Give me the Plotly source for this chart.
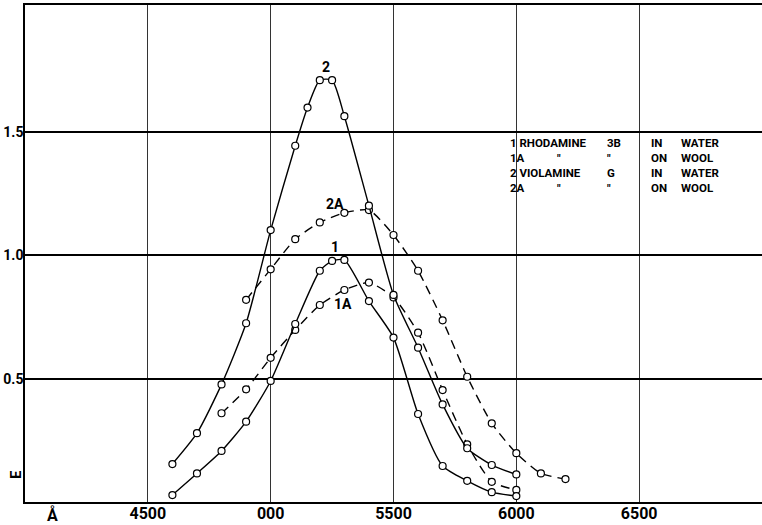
import plotly.graph_objects as go

# Wavelength (Å) and extinction E
x_1 = [4600, 4700, 4800, 4900, 5000, 5100, 5200, 5250, 5300, 5400, 5500, 5600, 5700, 5800, 5900, 6000]
y_1 = [0.028, 0.116, 0.207, 0.326, 0.491, 0.722, 0.938, 0.978, 0.982, 0.815, 0.667, 0.357, 0.146, 0.086, 0.040, 0.024]

x_1a = [4800, 4900, 5000, 5100, 5200, 5300, 5400, 5500, 5600, 5700, 5800, 5900, 6000]
y_1a = [0.36, 0.457, 0.585, 0.698, 0.799, 0.86, 0.89, 0.83, 0.687, 0.454, 0.234, 0.082, 0.049]

x_2 = [4600, 4700, 4800, 4900, 5000, 5100, 5150, 5200, 5250, 5300, 5400, 5500, 5600, 5700, 5800, 5900, 6000]
y_2 = [0.154, 0.279, 0.477, 0.725, 1.103, 1.445, 1.60, 1.711, 1.711, 1.565, 1.202, 0.84, 0.626, 0.396, 0.218, 0.150, 0.112]

x_2a = [4900, 5000, 5100, 5200, 5300, 5400, 5500, 5600, 5700, 5800, 5900, 6000, 6100, 6200]
y_2a = [0.82, 0.944, 1.066, 1.134, 1.173, 1.184, 1.083, 0.938, 0.737, 0.508, 0.319, 0.198, 0.116, 0.093]

x_ticks = [4500, 5000, 5500, 6000, 6500]
x_ticktext = ["4500", "000", "5500", "6000", "6500"]
y_ticks = [0.5, 1.0, 1.5]
y_ticktext = ["0.5", "1.0", "1.5"]

# legend table: columns of row texts ("" = blank, '"' = ditto mark)
legend_cols = [
    ["1 RHODAMINE", "1A", "2 VIOLAMINE", "2A"],
    ["", '"', "", '"'],
    ["3B", '"', "G", '"'],
    ["IN", "ON", "IN", "ON"],
    ["WATER", "WOOL", "WATER", "WOOL"],
]
legend_col_x = [5970, 6160, 6365, 6544, 6666]
LEGEND_TOP = 1.487

FONT = "Roboto, Liberation Sans, sans-serif"
LSIZE = 11.5

fig = go.Figure()

def add_curve(xs, ys, dash):
    fig.add_trace(go.Scatter(
        x=xs, y=ys, mode="lines+markers",
        line=dict(color="black", width=1.4, dash=dash, shape="spline", smoothing=0.6),
        marker=dict(symbol="circle", size=7, color="white", line=dict(color="black", width=1.2)),
        showlegend=False, hoverinfo="skip"))

add_curve(x_2a, y_2a, "9px,6px")
add_curve(x_1a, y_1a, "9px,6px")
add_curve(x_2, y_2, "solid")
add_curve(x_1, y_1, "solid")

# curve labels
labels = [("2", 5225, 1.765), ("2A", 5262, 1.21), ("1", 5262, 1.035), ("1A", 5293, 0.805)]
for t, lx, ly in labels:
    fig.add_annotation(x=lx, y=ly, text=t, showarrow=False,
                       font=dict(family=FONT, size=14, color="black", weight="bold"))

# legend block, one multi-line text per column
for c, col in enumerate(legend_cols):
    lines = [("&nbsp;" if t == "" else t) for t in col]
    fig.add_annotation(x=legend_col_x[c], y=LEGEND_TOP, text="<br>".join(lines),
                       showarrow=False, xanchor="left", yanchor="top", align="left",
                       borderpad=0,
                       font=dict(family=FONT, size=LSIZE, color="black", weight="bold"))

# axis symbols
fig.add_annotation(xref="paper", yref="paper", x=-0.013, y=0.055, text="E",
                   textangle=-90, showarrow=False, xanchor="center", yanchor="middle",
                   font=dict(family=FONT, size=15, color="black", weight="bold"))
fig.add_annotation(x=4113, yref="paper", y=-0.002, text="Å", showarrow=False,
                   yanchor="top", font=dict(family=FONT, size=16, color="black", weight="bold"))

fig.update_xaxes(range=[4000, 7000], tickvals=x_ticks, ticktext=x_ticktext,
                 showgrid=True, gridcolor="#333", gridwidth=1,
                 showline=True, linecolor="black", linewidth=2, mirror=True,
                 ticks="", zeroline=False,
                 tickfont=dict(family=FONT, size=16, color="black", weight="bold"))
fig.update_yaxes(range=[0, 2.016], tickvals=y_ticks, ticktext=y_ticktext,
                 showgrid=True, gridcolor="black", gridwidth=2,
                 showline=True, linecolor="black", linewidth=1.5, mirror=False,
                 ticks="", zeroline=False,
                 tickfont=dict(family=FONT, size=14, color="black", weight="bold"))
try:
    fig.update_xaxes(ticklabelstandoff=-4)
    fig.update_yaxes(ticklabelstandoff=-3)
except Exception:
    pass

fig.update_layout(width=762, height=525, margin=dict(l=25, r=0, t=5, b=23),
                  paper_bgcolor="white", plot_bgcolor="white")

fig.write_html("out.html")
